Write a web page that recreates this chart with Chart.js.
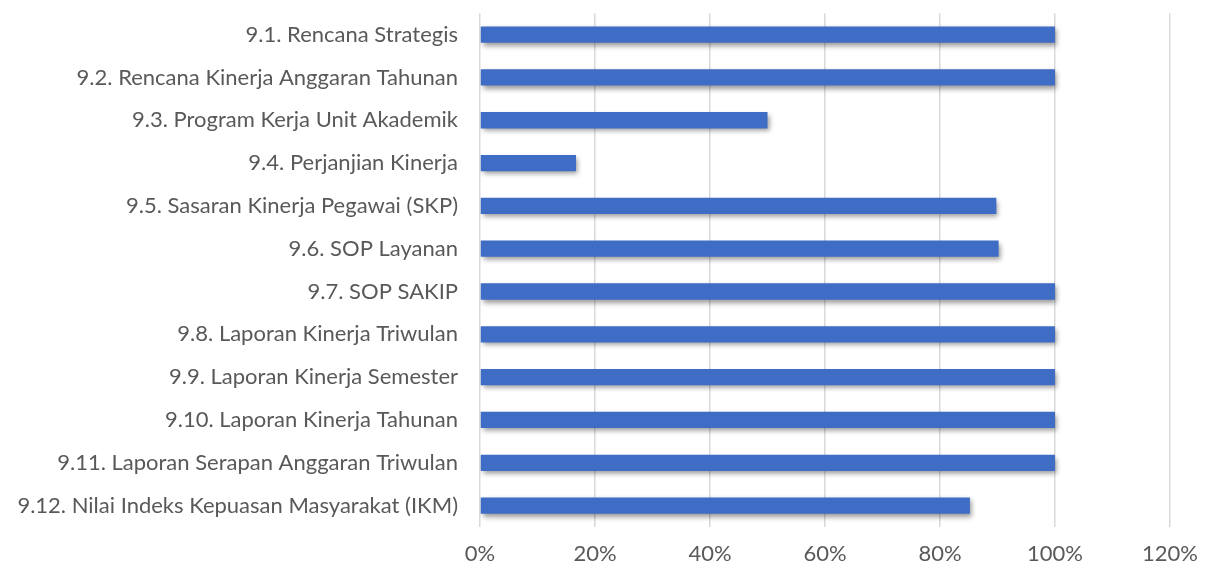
<!DOCTYPE html>
<html>
<head>
<meta charset="utf-8">
<script src="https://cdn.jsdelivr.net/npm/chart.js@4.4.1/dist/chart.umd.min.js"></script>
<style>
  html, body { margin: 0; padding: 0; background: #fff; }
  #wrap { width: 1213px; height: 570px; }
</style>
</head>
<body>
<div id="wrap"><canvas id="grafik"></canvas></div>
<script>
// data dokumen
const kategori = [
  '9.1. Rencana Strategis',
  '9.2. Rencana Kinerja Anggaran Tahunan',
  '9.3. Program Kerja Unit Akademik',
  '9.4. Perjanjian Kinerja',
  '9.5. Sasaran Kinerja Pegawai (SKP)',
  '9.6. SOP Layanan',
  '9.7. SOP SAKIP',
  '9.8. Laporan Kinerja Triwulan',
  '9.9. Laporan Kinerja Semester',
  '9.10. Laporan Kinerja Tahunan',
  '9.11. Laporan Serapan Anggaran Triwulan',
  '9.12. Nilai Indeks Kepuasan Masyarakat (IKM)'
];
const persen = [100, 100, 50, 16.7, 89.8, 90.2, 100, 100, 100, 100, 100, 85.2];
const sumbuMax = 120;
const sumbuStep = 20;

// bayangan batang ala Excel
const bayangan = {
  id: 'bayangan',
  beforeDatasetsDraw(chart) {
    const ctx = chart.ctx;
    ctx.save();
    ctx.shadowColor = 'rgba(0,0,0,0.4)';
    ctx.shadowBlur = 5;
    ctx.shadowOffsetX = 2;
    ctx.shadowOffsetY = 3;
  },
  afterDatasetsDraw(chart) {
    chart.ctx.restore();
  }
};

const fonte = { family: 'Lato, sans-serif', size: 22 };

new Chart(document.getElementById('grafik'), {
  type: 'bar',
  data: {
    labels: kategori,
    datasets: [{
      data: persen,
      backgroundColor: '#3f6dc6',
      borderWidth: 0,
      barPercentage: 0.38,
      categoryPercentage: 1
    }]
  },
  options: {
    indexAxis: 'y',
    responsive: true,
    maintainAspectRatio: false,
    animation: false,
    layout: { padding: { top: 13, right: 43, left: 0, bottom: 0 } },
    plugins: { legend: { display: false }, tooltip: { enabled: false } },
    scales: {
      x: {
        min: 0,
        max: sumbuMax,
        ticks: {
          stepSize: sumbuStep,
          color: '#595959',
          font: fonte,
          padding: 14,
          callback: v => v + '%'
        },
        grid: { color: '#d9d9d9', lineWidth: 1.5, drawTicks: false },
        border: { display: false },
        afterFit(s) { s.height = 43; }
      },
      y: {
        ticks: { color: '#595959', font: fonte, padding: 0, autoSkip: false },
        grid: { display: false, drawTicks: true, tickLength: 22 },
        border: { display: false },
        afterFit(s) { s.width = 480; }
      }
    }
  },
  plugins: [bayangan]
});
</script>
</body>
</html>
